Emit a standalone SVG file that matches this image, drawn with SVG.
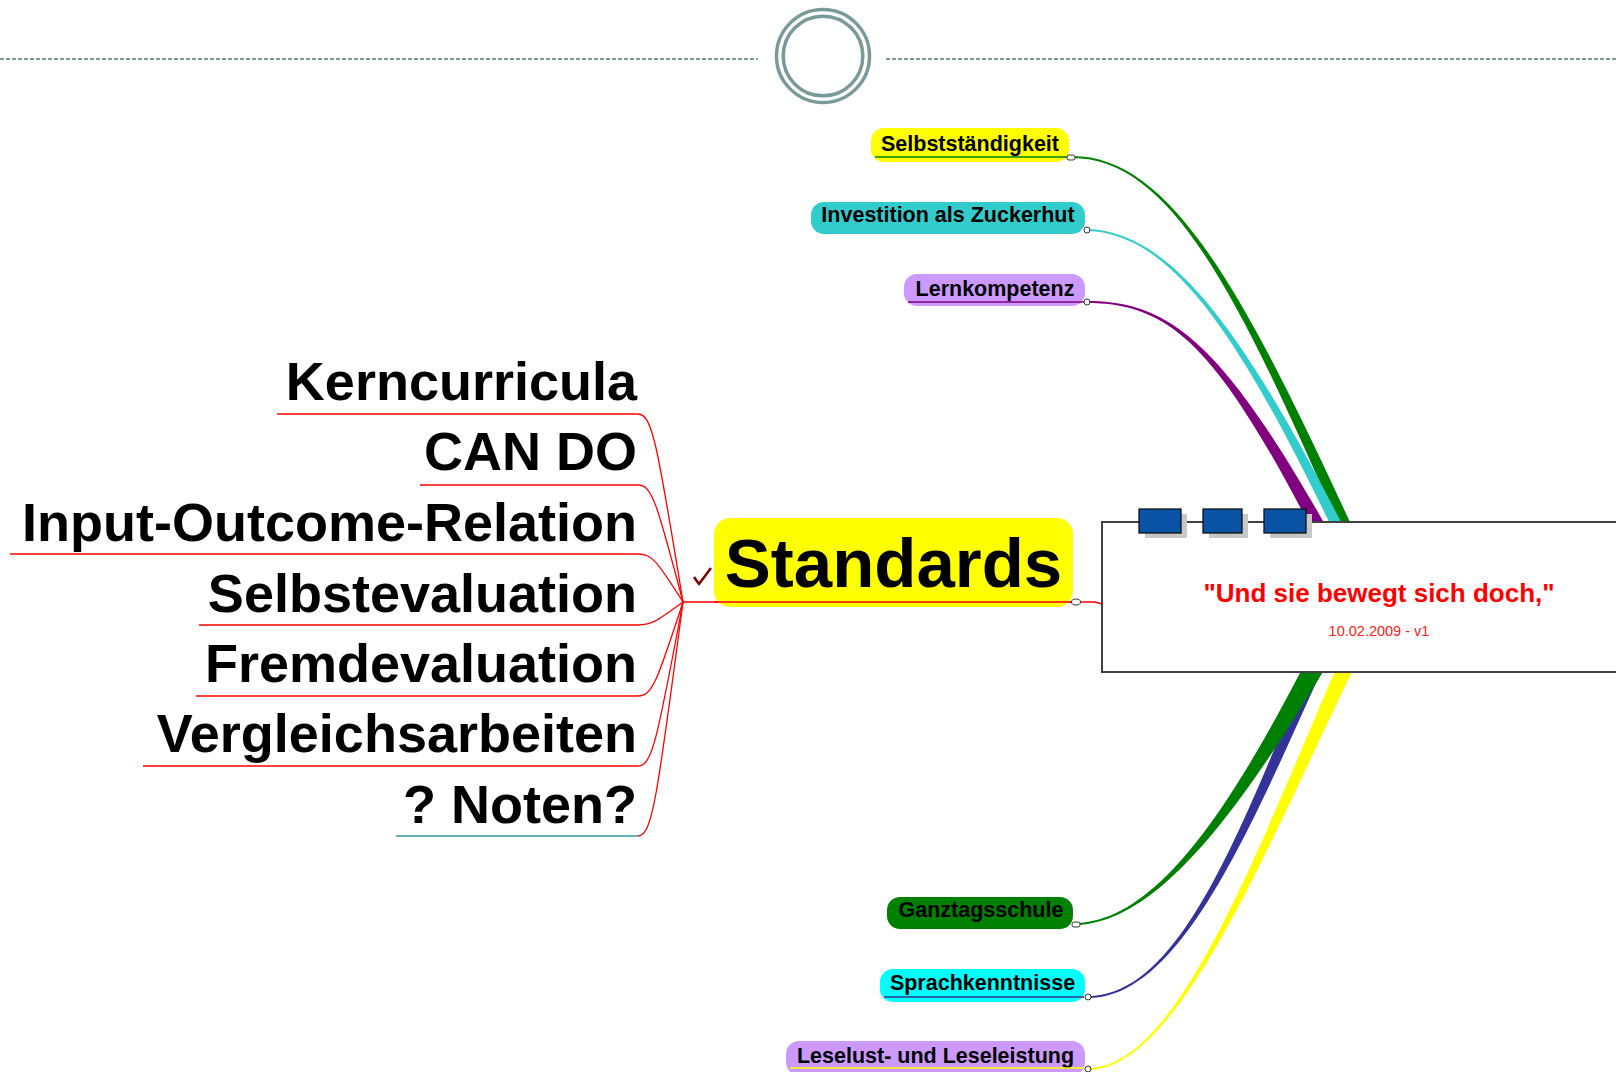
<svg xmlns="http://www.w3.org/2000/svg" width="1616" height="1072" viewBox="0 0 1616 1072">
<style>
.t{font-family:"Liberation Sans",Arial,sans-serif;font-weight:bold;fill:#000}
.big{font-size:54px;text-anchor:end}
.sm{font-size:21.5px;text-anchor:middle}
.lc{fill:none;stroke:#FF0000;stroke-width:1.3}
.dot{fill:#fff;stroke:#333;stroke-width:1}
.ring{fill:none;stroke:#7A9A9A;stroke-width:3.5}
.btn{fill:#0A52A3;stroke:#111;stroke-width:1.3}
.sh{fill:#C8C8C8}
</style>
<rect width="1616" height="1072" fill="#fff"/>
<g id="header">
<line x1="0" y1="59" x2="758" y2="59" stroke="#7A9A9A" stroke-width="2" stroke-dasharray="4 2"/>
<line x1="886" y1="59" x2="1616" y2="59" stroke="#7A9A9A" stroke-width="2" stroke-dasharray="4 2"/>
<circle class="ring" cx="823" cy="56" r="46.5"/>
<circle class="ring" cx="823" cy="56" r="39.8"/>
</g>
<g id="connectors">
<path class="lc" d="M638 414 C652 414 657 442 683 602"/>
<path class="lc" d="M638 485 C652 485 657 503 683 602"/>
<path class="lc" d="M638 554 C652 554 657 561 683 602"/>
<path class="lc" d="M638 625 C652 625 657 621 683 602"/>
<path class="lc" d="M638 696 C652 696 657 682 683 602"/>
<path class="lc" d="M638 766 C652 766 657 741 683 602"/>
<path class="lc" d="M638 836 C652 836 657 800 683 602" stroke="#339999"/>
<line x1="683" y1="602" x2="1072" y2="602" stroke="#FF0000" stroke-width="1.5"/>
<polyline points="1080,602 1095,602 1102,604" fill="none" stroke="#FF0000" stroke-width="1.5"/>
<path fill="#008000" d="M1072 156 C1170 156 1242.7 288.8 1352.5 527.6 L1341.5 532.4 C1237.3 291.2 1170 158 1072 158 Z"/>
<path fill="#33CCCC" d="M1087 229 C1170 231 1242.5 328.8 1343.9 527.6 L1334.1 532.4 C1237.5 331.2 1170 233 1087 231 Z"/>
<path fill="#800080" d="M1087 301 C1170 301 1222.6 343.6 1326.2 526.7 L1313.8 533.3 C1217.4 346.4 1170 303 1087 303 Z"/>
<path fill="#333399" d="M1088 996 C1180 996 1241.3 828.4 1310.6 661.2 L1323.4 666.8 C1248.7 831.6 1180 998 1088 998 Z"/>
<path fill="#FFFF00" d="M1088 1068 C1180 1068 1261.4 838.3 1339.7 660.6 L1354.3 667.4 C1268.6 841.7 1180 1070 1088 1070 Z"/>
<path fill="#008000" d="M1076 923 C1160 921 1235.6 797.6 1307.3 659.1 L1324.7 668.9 C1244.4 802.4 1160 923 1076 925 Z"/>
</g>
<g id="n-kerncurricula"><text class="t big" x="637" y="400">Kerncurricula</text><line class="lc" x1="277" y1="414" x2="638" y2="414"/></g>
<g id="n-cando"><text class="t big" x="637" y="470">CAN DO</text><line class="lc" x1="420" y1="485" x2="638" y2="485"/></g>
<g id="n-input"><text class="t big" x="637" y="541">Input-Outcome-Relation</text><line class="lc" x1="10" y1="554" x2="638" y2="554"/></g>
<g id="n-selbstevaluation"><text class="t big" x="637" y="612">Selbstevaluation</text><line class="lc" x1="199" y1="625" x2="638" y2="625"/></g>
<g id="n-fremdevaluation"><text class="t big" x="637" y="682">Fremdevaluation</text><line class="lc" x1="196" y1="696" x2="638" y2="696"/></g>
<g id="n-vergleich"><text class="t big" x="637" y="752">Vergleichsarbeiten</text><line class="lc" x1="143" y1="766" x2="638" y2="766"/></g>
<g id="n-noten"><text class="t big" x="637" y="823">? Noten?</text><line x1="396" y1="836" x2="638" y2="836" stroke="#339999" stroke-width="1.3"/></g>
<g id="n-standards">
<rect x="714" y="518" width="359" height="89" rx="16" fill="#FFFF00"/>
<text class="t" x="893.5" y="587" font-size="69" text-anchor="middle">Standards</text>
<line x1="714" y1="602" x2="1073" y2="602" stroke="#FF0000" stroke-width="1.5"/>
<ellipse class="dot" cx="1076" cy="602" rx="4.5" ry="3"/>
<polyline points="694,577 699,584 711,568" fill="none" stroke="#800000" stroke-width="2.5" stroke-linejoin="round"/>
</g>
<g id="n-selbststaendigkeit">
<rect x="871" y="128" width="198" height="34" rx="13" fill="#FFFF00"/>
<text class="t sm" x="970" y="151">Selbstständigkeit</text>
<line x1="875" y1="157" x2="1068" y2="157" stroke="#008000" stroke-width="1.5"/>
<rect class="dot" x="1067" y="155" width="8" height="5" rx="2"/>
</g>
<g id="n-investition">
<rect x="811" y="202" width="274" height="32" rx="13" fill="#33CCCC"/>
<text class="t sm" x="948" y="222">Investition als Zuckerhut</text>
<circle class="dot" cx="1087" cy="230" r="3"/>
</g>
<g id="n-lernkompetenz">
<rect x="904" y="274" width="181" height="32" rx="13" fill="#CC99FF"/>
<text class="t sm" x="995" y="296">Lernkompetenz</text>
<line x1="908" y1="302" x2="1084" y2="302" stroke="#800080" stroke-width="1.5"/>
<circle class="dot" cx="1087" cy="302" r="3"/>
</g>
<g id="n-ganztagsschule">
<rect x="887" y="897" width="186" height="32" rx="13" fill="#008000"/>
<text class="t sm" x="981" y="917">Ganztagsschule</text>
<rect class="dot" x="1072" y="922" width="8" height="5" rx="2"/>
</g>
<g id="n-sprachkenntnisse">
<rect x="880" y="969" width="205" height="33" rx="13" fill="#00FFFF"/>
<text class="t sm" x="982.5" y="990">Sprachkenntnisse</text>
<line x1="884" y1="997" x2="1084" y2="997" stroke="#333399" stroke-width="1.5"/>
<circle class="dot" cx="1088" cy="997" r="3"/>
</g>
<g id="n-leselust">
<rect x="786" y="1041" width="299" height="34" rx="13" fill="#CC99FF"/>
<text class="t sm" x="935.5" y="1063">Leselust- und Leseleistung</text>
<line x1="790" y1="1068" x2="1084" y2="1068" stroke="#FFFF00" stroke-width="1.5"/>
<circle class="dot" cx="1088" cy="1069" r="3"/>
</g>
<g id="n-center">
<rect x="1102" y="522" width="600" height="150" fill="#fff" stroke="#404040" stroke-width="2"/>
<rect class="sh" x="1145" y="514" width="42" height="24"/>
<rect class="sh" x="1209" y="514" width="39" height="24"/>
<rect class="sh" x="1270" y="514" width="42" height="24"/>
<rect class="btn" x="1139" y="509" width="42" height="24"/>
<rect class="btn" x="1203" y="509" width="39" height="24"/>
<rect class="btn" x="1264" y="509" width="42" height="24"/>
<text class="t" x="1379" y="602" font-size="26" text-anchor="middle" style="fill:#FF0000">"Und sie bewegt sich doch,"</text>
<text x="1379" y="636" font-family="Liberation Sans, Arial, sans-serif" font-size="14.5" text-anchor="middle" fill="#FF2020">10.02.2009 - v1</text>
</g>
</svg>
